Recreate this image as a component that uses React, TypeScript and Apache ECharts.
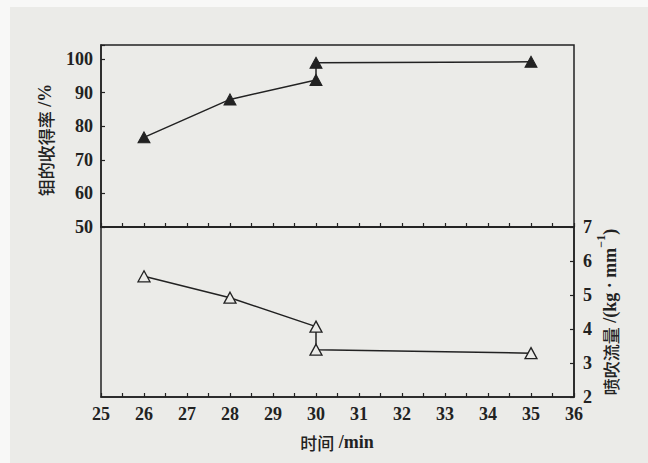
import React, { useEffect, useRef } from "react";
import * as echarts from "echarts";

const topX = [26, 28, 30, 30, 35];
const topY = [76.7, 88.0, 93.8, 98.9, 99.2];
const bottomX = [26, 28, 30, 30, 35];
const bottomY = [5.55, 4.92, 4.07, 3.39, 3.29];
const leftTicks = [50, 60, 70, 80, 90, 100];
const rightTicks = [2, 3, 4, 5, 6, 7];

const INK = "#222222";
const SERIF = "Liberation Serif";
const CJK = "Noto Sans CJK SC";
const BG = "#ebebe8";

export default function App() {
  const ref = useRef<HTMLDivElement>(null);
  useEffect(() => {
    if (!ref.current) return;
    const chart = echarts.init(ref.current, undefined, { renderer: "svg" });
    const topData = topX.map((x, i) => [x, topY[i]]);
    const bottomData = bottomX.map((x, i) => [x, bottomY[i]]);
    const xCommon = {
      type: "value",
      min: 25,
      max: 36,
      interval: 0.5,
      axisLine: { show: true, lineStyle: { color: INK, width: 1.5 } },
      axisTick: { show: true, inside: true, length: 4, lineStyle: { color: INK, width: 1.2 } },
      splitLine: { show: false },
    };
    const lab = { color: INK, fontFamily: SERIF, fontSize: 18, fontWeight: 600 };
    chart.setOption({
      animation: false,
      backgroundColor: "transparent",
      grid: [
        { left: 101, top: 45, width: 473, height: 182, show: true, borderColor: INK, borderWidth: 1.5, backgroundColor: "transparent" },
        { left: 101, top: 227, width: 473, height: 170, show: true, borderColor: INK, borderWidth: 1.5, backgroundColor: "transparent" },
      ],
      xAxis: [
        { ...xCommon, gridIndex: 0, position: "bottom", axisLabel: { show: false } },
        {
          ...xCommon,
          gridIndex: 1,
          position: "bottom",
          axisLabel: {
            show: true,
            margin: 8,
            ...lab,
            formatter: (v: number) => (Number.isInteger(v) ? String(v) : ""),
          },
        },
      ],
      yAxis: [
        {
          type: "value",
          gridIndex: 0,
          position: "left",
          min: 50,
          max: 104.2,
          interval: 10,
          axisLine: { show: true, lineStyle: { color: INK, width: 1.5 } },
          axisTick: { show: true, inside: true, length: 4, lineStyle: { color: INK, width: 1.2 } },
          splitLine: { show: false },
          axisLabel: {
            show: true,
            margin: 8,
            ...lab,
            formatter: (v: number) => (leftTicks.includes(v) ? String(v) : ""),
          },
        },
        {
          type: "value",
          gridIndex: 1,
          position: "right",
          min: 2,
          max: 7,
          interval: 1,
          axisLine: { show: true, lineStyle: { color: INK, width: 1.5 } },
          axisTick: { show: true, inside: true, length: 4, lineStyle: { color: INK, width: 1.2 } },
          splitLine: { show: false },
          axisLabel: {
            show: true,
            margin: 9,
            ...lab,
            formatter: (v: number) => (rightTicks.includes(v) ? String(v) : ""),
          },
        },
      ],
      series: [
        {
          type: "line",
          xAxisIndex: 0,
          yAxisIndex: 0,
          data: topData,
          symbol: "triangle",
          symbolSize: [12, 11],
          lineStyle: { color: INK, width: 1.5 },
          itemStyle: { color: INK, borderColor: INK, borderWidth: 1 },
        },
        {
          type: "line",
          xAxisIndex: 1,
          yAxisIndex: 1,
          data: bottomData,
          symbol: "triangle",
          symbolSize: [12, 11],
          lineStyle: { color: INK, width: 1.5 },
          itemStyle: { color: BG, borderColor: INK, borderWidth: 1.3 },
        },
      ],
      graphic: [
        {
          type: "text",
          x: 45,
          y: 140,
          rotation: Math.PI / 2,
          style: {
            text: "{c|钼的收得率}{l| /%}",
            fill: INK,
            align: "center",
            verticalAlign: "middle",
            rich: {
              c: { fontFamily: CJK, fontSize: 17, fontWeight: 500, fill: INK },
              l: { fontFamily: SERIF, fontSize: 18, fontWeight: 600, fill: INK },
            },
          },
        },
        {
          type: "text",
          x: 337,
          y: 442,
          style: {
            text: "{c|时间}{l| /min}",
            fill: INK,
            align: "center",
            verticalAlign: "middle",
            rich: {
              c: { fontFamily: CJK, fontSize: 17, fontWeight: 500, fill: INK },
              l: { fontFamily: SERIF, fontSize: 18, fontWeight: 600, fill: INK },
            },
          },
        },
        {
          type: "text",
          x: 610,
          y: 312,
          rotation: Math.PI / 2,
          style: {
            text: "{c|喷吹流量}{l| /(kg · mm}{s|−1}{l|)}",
            fill: INK,
            align: "center",
            verticalAlign: "middle",
            rich: {
              c: { fontFamily: CJK, fontSize: 17, fontWeight: 500, fill: INK, lineHeight: 30 },
              l: { fontFamily: SERIF, fontSize: 18, fontWeight: 600, fill: INK, lineHeight: 30 },
              s: { fontFamily: SERIF, fontSize: 12, fontWeight: 600, fill: INK, verticalAlign: "top", lineHeight: 30 },
            },
          },
        },
      ],
    });
    return () => chart.dispose();
  }, []);
  return (
    <div style={{ position: "fixed", left: 0, top: 0, width: 648, height: 463, background: "#f8f8f7" }}>
      <div style={{ position: "absolute", left: 10, top: 7, right: 0, bottom: 0, background: BG }} />
      <div ref={ref} style={{ position: "absolute", left: 0, top: 0, width: 648, height: 463 }} />
    </div>
  );
}
